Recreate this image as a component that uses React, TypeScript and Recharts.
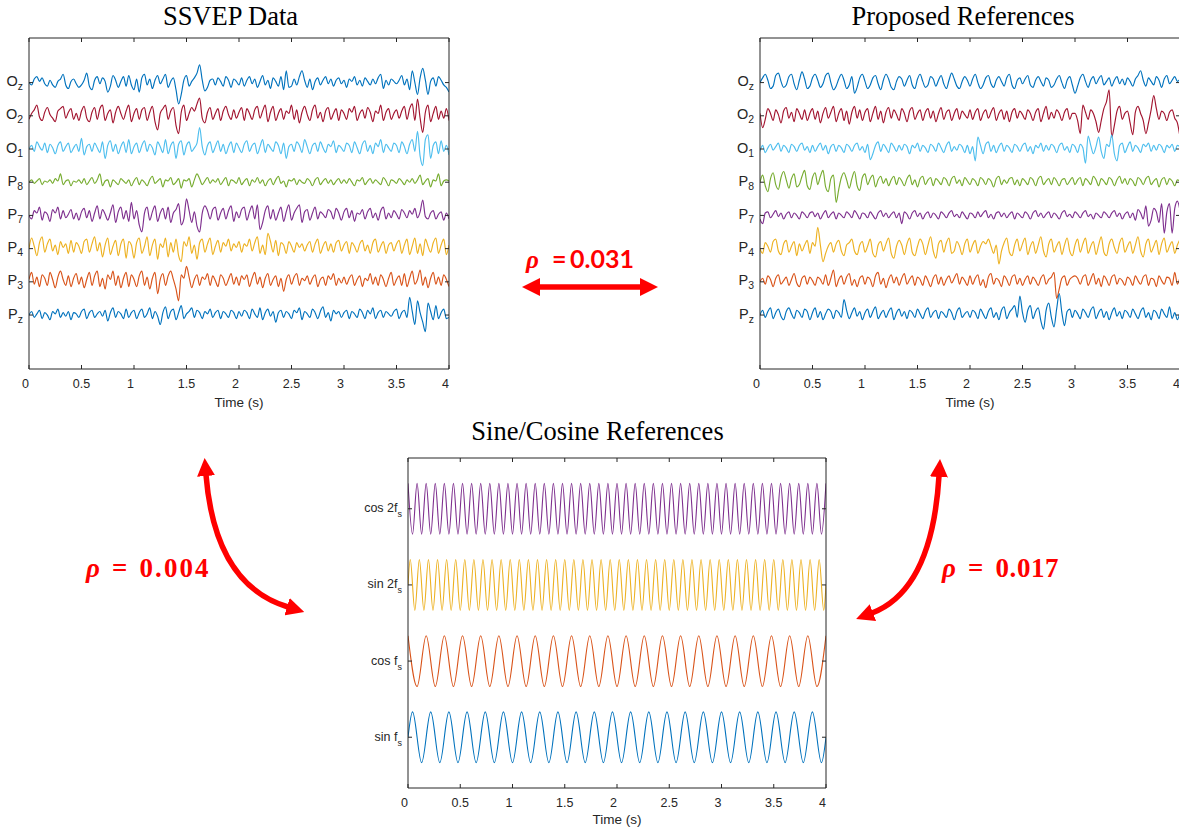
import React from 'react';
import { LineChart, Line, XAxis, YAxis } from 'recharts';

const AXIS = '#262626';
const SANS = '"Liberation Sans", Arial, Helvetica, sans-serif';
const SERIF = '"Liberation Serif", "Times New Roman", serif';
const RED = '#FF0000';

const TIME_TICKS = [0, 0.5, 1, 1.5, 2, 2.5, 3, 3.5, 4];
const SAMPLE_RATE = 40; // EEG samples per second

// EEG montage, top to bottom, stacked 28 µV apart
const CHANNELS = ['Oz', 'O2', 'O1', 'P8', 'P7', 'P4', 'P3', 'Pz'];
const CHANNEL_OFFSETS = [196, 168, 140, 112, 84, 56, 28, 0];
const CHANNEL_COLORS = ['#0072BD', '#A2142F', '#4DBEEE', '#77AC30', '#7E2F8E', '#EDB120', '#D95319', '#0072BD'];
const EEG_DOMAIN = [-45.5, 233.6];

// SSVEP recording (µV around each channel baseline), 0–4 s
const SSVEP_OZ = [
  0, -2, 3, 5, 1, 4, -1, -3, 2, -2, -4, 1, 3, 7, -2, -5, 1, 3, -1, -4,
  -2, 2, 8, -3, -6, 2, 5, -1, 4, 1, -8, -3, 6, 2, -4, 1, 5, -3, 6, -2,
  -6, 3, -8, 4, 7, -2, 3, -5, 2, 6, -1, 3, 7, -4, 1, 4, -6, -18, -10, 2,
  6, -3, 1, 4, 8, 15, 2, -7, -4, 2, 3, -2, 4, 1, -3, 5, 2, -4, 3, 1,
  -2, 4, -3, 2, 5, -1, 3, -4, 1, 6, -2, 2, -5, 4, 1, -3, 5, -6, 10, -4,
  -3, 3, -2, 5, 10, 2, -4, 3, -6, 1, 4, -2, 2, 5, -1, 3, -3, 2, 4, -1,
  2, -4, 3, 1, 5, -2, 2, -3, 4, 1, -2, 3, -1, 4, 7, -5, 2, -2, 3, 1,
  -1, 2, 6, -2, 3, -6, 10, 0, -10, 4, 12, 2, -10, 1, 4, -3, 5, 2, -2, -4,
  -8,
];
const SSVEP_O2 = [
  -3, 2, 5, 9, -1, -4, 3, 7, 1, -2, -5, 4, 6, 8, -2, 3, 6, -3, 2, -4,
  4, 8, -2, -5, 3, 7, -3, 6, 9, -4, 2, 5, -6, 3, 8, 2, -3, 4, 9, -5,
  2, 6, -3, 5, 7, -4, 3, 8, -5, -12, 2, 6, 9, -3, 4, 7, -8, -15, 3, 9,
  -4, 2, 7, 4, 10, 15, -2, -6, 3, 7, -3, 2, 6, -4, 4, 8, 1, -3, 5, -2,
  3, 7, -4, 6, 2, -3, 5, 8, -2, 4, 9, -5, 3, 8, -4, 2, 6, -3, 4, 2,
  9, -3, 5, -6, 3, 8, 1, -4, 5, 9, -2, 3, -5, 4, 7, -3, 2, 6, -4, 5,
  2, -3, 6, 3, 8, -4, 2, 5, -2, 7, 3, -5, 4, 2, 9, -4, 3, 6, -3, 2,
  5, -2, 4, 8, -3, 6, 10, -4, 14, -2, -14, 3, 9, -5, 2, 8, -3, 4, -2, 6,
  -4,
];
const SSVEP_O1 = [
  0, 3, -2, 6, 2, -1, 5, -3, 4, 1, -4, 3, 6, -2, 2, 5, -3, 1, 4, -2,
  9, -5, 2, 4, -2, 5, 1, -3, 6, -8, 3, 7, -2, 4, -4, 2, 6, -3, 8, -4,
  2, 5, -3, 3, 7, -2, 4, 1, -5, 6, 2, -3, 8, -4, 3, 6, -8, 4, 7, -5,
  3, 6, -2, 1, 5, 18, 2, -5, 3, 6, -3, 2, 7, -2, 4, -4, 2, 6, -3, 5,
  1, -3, 4, 7, -2, 3, 5, -4, 2, 8, -3, 4, 1, -2, 6, 3, -4, 5, -8, 2,
  4, -2, 6, 3, -3, 8, 2, -4, 3, 5, -2, 6, 1, -3, 4, 2, 7, -3, 3, 1,
  -2, 5, 3, -3, 6, 1, -4, 4, 7, -2, 3, -4, 5, 2, 8, -3, 4, 1, -2, 5,
  3, -3, 6, 2, -4, 4, 8, -2, 15, -6, -14, 8, 12, -8, 3, 6, -4, 7, -2, 3,
  -5,
];
const SSVEP_P8 = [
  0, 2, -1, 1, 3, -2, 1, 0, 2, -1, 3, 1, 7, -2, 1, 2, -3, 1, 0, 2,
  -1, 3, -2, 1, 4, -1, 2, 7, -3, 1, 2, -4, 2, 0, -2, 3, 1, -1, 2, -3,
  1, 4, -2, 2, 0, -3, 2, 5, -1, 1, 3, -4, 2, 1, 4, -2, 0, 3, -5, 2,
  1, 3, -4, 2, 7, 3, -2, 1, 4, -1, 2, 0, 3, -2, 1, 4, -3, 2, 1, -1,
  4, -2, 1, 3, -3, 2, 0, 4, -1, 2, -3, 1, 3, -2, 2, 5, -1, 1, -4, 2,
  1, 3, -2, 2, 0, -1, 3, 1, -3, 2, 4, -2, 1, 3, -1, 2, -2, 1, 3, -1,
  2, -1, 3, 0, -3, 2, 1, 4, -2, 1, 3, -1, 2, 0, -2, 4, 1, -3, 2, 1,
  -1, 3, 1, -2, 2, 0, 3, -1, 2, 6, -2, 1, 3, -4, 2, 1, 7, -3, 1, 2,
  1,
];
const SSVEP_P7 = [
  0, -3, 4, 2, 7, -4, 3, 1, -5, 5, 2, 7, -3, 4, -2, 1, 5, -3, 2, -4,
  3, 6, -2, 4, -5, 2, 8, -3, 5, 1, -4, 2, 9, -6, 3, 7, -3, 4, -5, 11,
  -3, 4, -8, -14, 2, 7, -4, 3, 8, -5, 2, 6, -3, 7, -6, 2, 5, 10, -8, -3,
  14, 4, -6, 3, -9, -14, 2, 8, 4, -3, 5, 7, -4, 2, 6, -3, 4, 8, -5, 3,
  -2, 5, 7, -4, 3, 8, -3, 9, -12, -6, 4, 8, -3, 5, -4, 2, 7, -5, 3, 9,
  -4, 2, 6, 9, -6, 3, 5, -4, 2, 7, -3, 3, 1, -2, 5, 3, -3, 6, 2, -4,
  3, 6, -2, 4, -5, 2, 1, 5, -3, 3, 6, -2, 2, -4, 4, 7, -3, 2, -2, 4,
  1, -3, 5, 2, -2, 4, 1, 6, -2, 3, 13, -1, -3, 2, 4, -3, 1, 3, -4, 2,
  -3,
];
const SSVEP_P4 = [
  0, 9, 2, -6, 5, 10, -3, 4, 8, -2, 3, -5, 6, 1, 4, -4, 7, -3, 5, 2,
  -4, 6, 8, -3, 4, 10, -2, 5, -7, 3, 9, -5, 2, 7, -6, 4, 8, -8, 6, 3,
  -8, 5, 9, -4, 2, 10, -6, 3, 8, -9, 4, 1, 9, -7, 5, -3, 8, -6, -11, 6,
  2, 10, -4, 3, -9, 5, 8, -3, 4, 9, -5, 2, 7, -3, 5, 2, 8, -2, 4, 1,
  6, -3, 4, 2, 8, -2, 5, 10, -4, 3, -5, 13, 6, -3, 7, -6, 5, 3, -4, 6,
  2, -3, 5, 1, 4, -2, 3, 6, -3, 4, 8, -4, 2, 6, -2, 4, -3, 5, 7, -2,
  3, 6, -4, 5, 2, -3, 4, 7, -2, 3, -4, 5, 8, -3, 2, 6, -4, 3, 5, -2,
  4, 7, -4, 3, 8, -5, 2, 9, -4, 4, -6, 8, 2, -3, 5, 9, -4, 3, 8, -5,
  3,
];
const SSVEP_P3 = [
  2, 8, -2, 4, -4, 6, 3, -3, 8, 2, -5, 4, 9, 2, -3, 5, -4, 3, 7, -2,
  4, -5, 2, 8, -3, 5, 9, -4, 3, -6, 6, 2, 9, -3, 5, -5, 3, 8, -4, 6,
  2, -4, 5, 9, -3, 4, -6, 3, 8, -10, 2, 7, -3, 5, 9, 2, -6, -16, 6, 3,
  13, 4, -5, 2, 6, -3, 4, 2, 7, -3, 5, 1, -4, 6, 3, -3, 2, 7, -2, 4,
  -3, 5, 2, 6, -4, 3, 8, -2, 4, -5, 3, 7, -3, 2, 5, -4, 3, -8, 2, 6,
  -2, 4, 7, -3, 3, 1, 5, -2, 3, 6, -4, 2, 4, -3, 5, 2, 7, -3, 3, -1,
  4, -2, 3, 6, -3, 2, 5, -4, 3, 1, 7, -2, 4, -3, 6, 2, -4, 3, 8, -3,
  2, 5, -3, 7, -4, 3, 9, -2, 2, 10, -3, 4, -5, 3, 8, -2, 4, -3, 6, 2,
  -4,
];
const SSVEP_PZ = [
  0, 3, -2, 1, 4, -3, 2, 0, -4, 3, 1, 5, -2, 2, -1, 3, -4, 2, 1, -2,
  3, 5, -3, 2, 4, -2, 1, 3, -1, 4, -5, 2, 6, -2, 3, 1, -3, 5, -2, 2,
  4, -3, 2, 5, -2, 1, 6, -3, 3, -1, -8, 2, 7, -3, 3, 5, -4, 2, 8, -3,
  1, 3, 6, -2, 4, 2, -3, 3, 1, 5, -2, 2, 4, -3, 3, 1, -2, 4, 2, -3,
  3, -1, 4, 2, -3, 5, 1, -2, 6, -4, 2, 5, -1, 3, -6, 2, 4, -2, 3, 1,
  -3, 4, 2, 6, -4, 3, 1, -2, 5, 2, -3, 3, 7, -2, 2, -5, 4, 1, 3, -2,
  2, 4, -3, 3, 1, -2, 5, 2, -3, 4, 1, 6, -3, 2, 4, -2, 3, 1, -1, 3,
  5, -3, 2, 4, -2, 15, 3, -8, 12, 2, -6, -14, 10, 3, -4, 8, -3, 2, 5, -3,
  -2,
];

// Proposed reference signals, same montage and scale
const PROP_OZ = [
  0, 4, 7, 2, -5, -3, 6, 8, 1, -4, -2, 5, 7, -1, -6, 2, 9, 3, -5, -3,
  4, 7, 2, -4, -1, 6, 8, 0, -6, -3, 3, 7, 2, -5, -2, 5, -9, -4, 4, 7,
  1, -5, -2, 4, 6, -1, -6, 2, 7, 3, -4, -6, 1, 5, 3, -3, 2, 6, -2, -5,
  3, 7, 1, -4, -2, 5, 3, -3, 2, 6, -1, -5, 2, 8, 3, -3, -5, 1, 5, 2,
  -3, 3, 7, 0, -5, -2, 4, 6, -1, -4, 2, 5, 1, -3, 4, 7, -2, -5, 2, 4,
  -1, 3, 6, -2, -4, 2, 5, 1, -3, 4, 2, -4, -2, 3, 6, 0, -5, 2, 5, -2,
  -9, -3, 4, 7, 1, -4, 2, 5, -1, 3, 6, -2, 1, 4, -3, 2, 5, -1, 3, -2,
  4, 1, -3, 3, 6, 10, 2, -3, 4, 1, -2, 5, 2, -4, 3, 6, -1, 2, 5, 1,
  3,
];
const PROP_O2 = [
  2, -10, -3, 6, 2, -4, 5, 1, -6, 4, 7, -2, 3, -5, 6, 2, -3, 5, -4, 2,
  6, -3, 4, -6, 2, 7, -2, 3, 8, -5, 2, 6, -4, 4, -7, 3, 8, -2, 5, -4,
  3, 6, -5, 2, 8, -3, 4, -6, 3, 7, -2, 5, 1, -4, 6, 2, -5, 4, 7, -3,
  2, 5, -4, 3, 6, -2, 4, -5, 2, 7, -3, 3, 5, -4, 2, 6, -3, 4, 1, -2,
  5, -3, 3, 6, -4, 2, 5, -2, 3, 7, -4, 2, 5, -3, 4, -5, 3, 6, -2, 4,
  1, -3, 5, 2, -4, 3, 6, -5, 2, 8, -3, 3, -2, 5, 2, -4, 3, 6, -3, 2,
  2, -4, -15, 9, 3, -3, 5, 2, -5, -14, -4, 6, 12, 22, -18, -8, 4, 8, -3, 2,
  4, -6, -16, 3, 8, 2, -4, -15, -6, 5, 17, 6, -3, 4, 2, -4, 3, 5, -2, -6,
  -18,
];
const PROP_O1 = [
  -2, 3, -3, 1, 4, -1, 2, 5, -2, 3, 1, -3, 4, 2, -2, 3, 5, -1, 2, -3,
  3, -2, 2, 5, -1, 3, -4, 2, 4, -2, 3, 1, -3, 4, 2, -2, 3, 5, -1, 2,
  -3, 4, -9, -4, 3, 6, -2, 4, 1, -3, 5, 2, -2, 3, -1, 4, 2, -4, 3, 1,
  5, -2, 3, 1, -3, 4, 2, -2, 5, 1, -3, 3, 6, -2, 2, -1, 4, 2, -3, 3,
  -4, 2, -10, 10, 3, -4, 4, 6, -2, 3, -3, 2, 5, -2, 3, 1, -3, 4, 2, -2,
  3, 5, -2, 2, -4, 3, 1, 5, -2, 3, -1, 4, 2, -3, 3, 5, -1, 2, -3, 4,
  2, -3, 4, 1, -12, 11, 3, -4, 2, 10, -2, -8, 4, 2, 12, -4, -10, 3, 5, -3,
  2, 6, -2, 3, 1, -3, 4, 2, 5, -2, 3, -1, 4, 2, -3, 3, 1, 4, -2, 3,
  2,
];
const PROP_P8 = [
  0, 6, -3, -8, 3, 8, -2, -6, 4, 9, 2, -5, 3, 7, -4, -2, 5, 10, -3, -6,
  4, 8, -2, 5, 10, -4, -8, 3, 6, -17, -6, 4, 8, 2, -5, 3, 9, -3, -7, 4,
  7, -2, 3, 6, -4, 2, 5, -1, 3, -3, 2, 5, -2, 4, 1, -3, 3, 6, -2, 2,
  -4, 3, 5, -2, 2, 4, -3, 3, 1, -2, 4, 2, -3, 3, 5, -1, 2, -3, 4, 1,
  -2, 3, 1, -3, 4, 2, -2, 3, 1, -4, 3, 5, -2, 2, -1, 3, 4, -2, 2, -3,
  3, 1, -2, 4, 2, -3, 3, 5, -2, 1, 3, -2, 4, 1, -3, 2, 3, -2, 1, 4,
  -2, 2, 4, -3, 3, 1, -2, 5, 2, -3, 3, 1, -2, 4, 2, -3, 2, 5, -1, 3,
  -2, 3, 1, -3, 4, 2, -2, 3, 5, -2, 1, 3, -4, 2, 4, -2, 3, 1, -3, 2,
  1,
];
const PROP_P7 = [
  -3, -7, 2, 3, -2, 1, 4, -1, 2, -3, 1, 3, -2, 2, 0, -3, 3, 1, -2, 2,
  3, -1, 2, -3, 1, 4, -2, 1, 3, -3, 2, 0, -2, 3, 1, -2, 4, 1, -3, 2,
  1, -2, 3, 0, -3, 2, 4, -1, 2, -2, 1, 3, -2, 2, -7, 3, 1, -3, 2, 4,
  -1, 2, -3, 1, 3, -2, 2, 0, -3, 3, 1, -2, 2, 4, -1, 1, -2, 3, 0, -3,
  2, 1, -2, 3, -1, 2, 4, -2, 1, -3, 2, 3, -1, 2, -2, 1, 3, -3, 2, 0,
  -2, 3, 1, -3, 2, 4, -1, 2, -2, 1, 3, -2, 2, 0, -3, 2, 4, -1, 1, -2,
  3, 1, -2, 2, 4, -1, 1, -3, 2, 0, -2, 3, 1, -2, 2, 4, -1, 2, -3, 1,
  3, -2, 2, -4, 5, 2, -3, 8, -9, -4, 6, 3, -6, 10, -15, 3, 10, -15, 6, 12,
  4,
];
const PROP_P4 = [
  0, -4, 5, 2, -3, 6, 8, -2, -5, 4, 7, -3, 2, 6, -6, 4, -2, 3, 7, -4,
  5, 2, 18, 3, -11, -4, 2, 5, -3, 4, 7, -2, -6, 3, 5, 8, -2, -5, 3, 6,
  -3, 2, 8, -4, -7, 3, 6, -2, 4, 9, -4, -8, 2, 7, 3, -5, 4, 9, -3, -6,
  2, 8, 4, -5, 3, 10, -2, -8, 4, 7, -3, 5, 9, -4, -2, 6, 2, -5, 4, 8,
  -3, 3, 7, -4, 2, 6, 4, 8, 2, -4, 3, -13, -2, 5, 9, -3, -6, 3, 8, -2,
  4, 9, -5, 2, 6, -4, 3, 10, -2, -7, 4, 8, -3, 2, 6, -5, 3, 9, -2, -6,
  3, 8, -3, 4, 9, -4, 2, 6, -5, 3, 10, -3, -6, 4, 8, 1, -4, 5, 9, -3,
  2, 6, -4, 3, 10, -2, -7, 4, 8, -3, 2, 7, -5, 4, 9, -3, 2, 6, -4, 3,
  8,
];
const PROP_P3 = [
  0, 3, -2, 5, 2, -4, 3, 6, -2, 1, 4, -3, 2, 7, -1, -4, 3, 5, -2, 4,
  1, -3, 4, 2, -2, 6, -3, 3, 10, -4, 2, 5, -2, 4, 7, -3, 2, -4, 3, 5,
  -2, 4, 2, -4, 5, 8, -2, 3, -5, 2, 6, -1, 4, -3, 3, 7, -2, 2, 5, -3,
  4, 2, -3, 5, 1, -4, 3, 6, -2, 4, -3, 2, 5, -1, 3, 7, -2, 4, 1, -3,
  5, -2, 3, 6, -3, 2, -5, 4, 7, -2, 3, 1, -4, 5, 2, -3, 4, 6, -2, 3,
  -3, 2, 5, -2, 4, 1, -3, 3, 6, -2, 2, 4, 8, -14, -6, 3, 5, -3, 2, 4,
  5, 3, -2, 4, 6, -3, 2, 7, -2, 3, -4, 5, 2, -3, 4, 6, -2, 3, 1, -3,
  4, 2, -3, 5, 1, -2, 4, 6, -3, 3, 2, -4, 5, 1, -2, 4, 3, -3, 8, -2,
  4,
];
const PROP_PZ = [
  0, 4, -2, 3, 6, -3, 2, 5, -1, -4, 3, 6, 1, -3, 4, 2, -2, 5, 3, -4,
  2, 6, -2, 3, -4, 1, 5, 3, -3, 4, 2, -2, 13, 4, -3, 2, 6, -1, 3, -4,
  2, 5, -2, 3, 7, -3, 1, 4, -2, 3, 6, -4, 2, 5, -1, 3, -3, 4, 2, -2,
  5, 1, -3, 3, 6, -2, 2, 4, -3, 3, 1, -2, 5, 2, -4, 3, 6, -2, 1, 3,
  -2, 4, 2, -3, 5, 1, -3, 3, 6, -2, 2, -4, 4, 7, -3, 2, 5, 8, -2, 16,
  2, -6, 4, 8, -3, 3, 6, -5, -12, 4, 10, -2, -10, 5, 18, 2, -9, 3, 5, -2,
  4, 1, -3, 5, 2, -2, 4, 7, -3, 2, 5, -2, 3, -4, 2, 6, -1, 3, -3, 4,
  2, -2, 5, 1, -3, 3, 6, -2, 2, -4, 4, 2, -3, 5, 1, -2, 7, -3, 2, -4,
  3,
];

const SSVEP_TRACES = [SSVEP_OZ, SSVEP_O2, SSVEP_O1, SSVEP_P8, SSVEP_P7, SSVEP_P4, SSVEP_P3, SSVEP_PZ];
const PROPOSED_TRACES = [PROP_OZ, PROP_O2, PROP_O1, PROP_P8, PROP_P7, PROP_P4, PROP_P3, PROP_PZ];

// Sine/cosine references: successive extrema (normalised amplitude)
const REF_FREQ = 5.75; // Hz
const REF_LABELS = ['sin f', 'cos f', 'sin 2f', 'cos 2f'];
const REF_HARMONIC = [1, 1, 2, 2];
const REF_IS_SINE = [true, false, true, false];
const REF_OFFSETS = [2, 5, 8, 11];
const REF_COLORS = ['#0072BD', '#D95319', '#EDB120', '#7E2F8E'];
const REF_DOMAIN = [0, 13];

const SIN_F_PEAKS = [
  1, -1, 1, -1, 1, -1, 1, -1, 1, -1, 1, -1, 1, -1, 1, -1, 1, -1, 1, -1,
  1, -1, 1, -1, 1, -1, 1, -1, 1, -1, 1, -1, 1, -1, 1, -1, 1, -1, 1, -1,
  1, -1, 1, -1, 1, -1,
];
const COS_F_PEAKS = [
  1, -1, 1, -1, 1, -1, 1, -1, 1, -1, 1, -1, 1, -1, 1, -1, 1, -1, 1, -1,
  1, -1, 1, -1, 1, -1, 1, -1, 1, -1, 1, -1, 1, -1, 1, -1, 1, -1, 1, -1,
  1, -1, 1, -1, 1, -1, 1,
];
const SIN_2F_PEAKS = [
  1, -1, 1, -1, 1, -1, 1, -1, 1, -1, 1, -1, 1, -1, 1, -1, 1, -1, 1, -1,
  1, -1, 1, -1, 1, -1, 1, -1, 1, -1, 1, -1, 1, -1, 1, -1, 1, -1, 1, -1,
  1, -1, 1, -1, 1, -1, 1, -1, 1, -1, 1, -1, 1, -1, 1, -1, 1, -1, 1, -1,
  1, -1, 1, -1, 1, -1, 1, -1, 1, -1, 1, -1, 1, -1, 1, -1, 1, -1, 1, -1,
  1, -1, 1, -1, 1, -1, 1, -1, 1, -1, 1, -1,
];
const COS_2F_PEAKS = [
  1, -1, 1, -1, 1, -1, 1, -1, 1, -1, 1, -1, 1, -1, 1, -1, 1, -1, 1, -1,
  1, -1, 1, -1, 1, -1, 1, -1, 1, -1, 1, -1, 1, -1, 1, -1, 1, -1, 1, -1,
  1, -1, 1, -1, 1, -1, 1, -1, 1, -1, 1, -1, 1, -1, 1, -1, 1, -1, 1, -1,
  1, -1, 1, -1, 1, -1, 1, -1, 1, -1, 1, -1, 1, -1, 1, -1, 1, -1, 1, -1,
  1, -1, 1, -1, 1, -1, 1, -1, 1, -1, 1, -1, 1,
];
const REF_PEAKS = [SIN_F_PEAKS, COS_F_PEAKS, SIN_2F_PEAKS, COS_2F_PEAKS];

function stackRows(traces: number[][]) {
  return traces[0].map((_, i) => {
    const row: Record<string, number> = { t: i / SAMPLE_RATE };
    CHANNELS.forEach((ch, c) => {
      row[ch] = traces[c][i] + CHANNEL_OFFSETS[c];
    });
    return row;
  });
}

// extrema are half a period apart; sines start a quarter period in and
// get their zero crossings at both ends
function refRows(r: number) {
  const half = 1 / (2 * REF_FREQ * REF_HARMONIC[r]);
  const start = REF_IS_SINE[r] ? half / 2 : 0;
  const off = REF_OFFSETS[r];
  const rows = REF_PEAKS[r].map((p, k) => ({ t: Math.round((start + k * half) * 1e6) / 1e6, v: p + off }));
  return REF_IS_SINE[r] ? [{ t: 0, v: off }, ...rows, { t: 4, v: off }] : rows;
}

const NoTick = () => <g />;

function TimeTick(props: any) {
  const { x, y, payload } = props;
  const s = String(payload.value);
  const dx = s.includes('.') ? 0 : -3.5;
  return (
    <text x={x + dx} y={y} dy="0.71em" textAnchor="middle" fontSize={12.5} fill={AXIS} fontFamily={SANS}>
      {s}
    </text>
  );
}

function StackTick(props: any) {
  const { x, y, payload, values, names, subs, size, subDy } = props;
  const idx = values.indexOf(payload.value);
  if (idx < 0) return <g />;
  return (
    <text x={x} y={y + 3.5} textAnchor="end" fontSize={size} fill={AXIS} fontFamily={SANS}>
      {names[idx]}
      <tspan dy={subDy} fontSize={size * 0.72}>
        {subs[idx]}
      </tspan>
    </text>
  );
}

const CH_MAIN = CHANNELS.map((c) => c[0]);
const CH_SUB = CHANNELS.map((c) => c.slice(1));

// bottom/left axes carry the labels, top/right only close the box with inward ticks
function boxAxes(yDomain: number[], yTicks: number[], yWidth: number, yTick: React.ReactElement, labelOffset: number) {
  return [
    <XAxis
      key="xb"
      xAxisId="b"
      dataKey="t"
      type="number"
      domain={[0, 4]}
      ticks={TIME_TICKS}
      allowDataOverflow
      height={40}
      stroke={AXIS}
      tickSize={-4}
      tickMargin={14}
      tick={<TimeTick />}
      label={{ value: 'Time (s)', position: 'insideBottom', offset: labelOffset, fill: AXIS, fontSize: 13.5 }}
    />,
    <XAxis
      key="xt"
      xAxisId="top"
      orientation="top"
      dataKey="t"
      type="number"
      domain={[0, 4]}
      ticks={TIME_TICKS}
      allowDataOverflow
      height={1}
      stroke={AXIS}
      tickSize={-4}
      tick={<NoTick />}
    />,
    <YAxis
      key="yl"
      yAxisId="l"
      type="number"
      domain={yDomain}
      ticks={yTicks}
      allowDataOverflow
      width={yWidth}
      stroke={AXIS}
      tickSize={-4}
      tickMargin={10}
      tick={yTick}
    />,
    <YAxis
      key="yr"
      yAxisId="r"
      orientation="right"
      type="number"
      domain={yDomain}
      ticks={yTicks}
      allowDataOverflow
      width={1}
      stroke={AXIS}
      tickSize={-4}
      tick={<NoTick />}
    />,
  ];
}

function EegPanel({ left, traces }: { left: number; traces: number[][] }) {
  const rows = stackRows(traces);
  return (
    <div style={{ position: 'absolute', left, top: 0, fontFamily: SANS }}>
      <LineChart width={460} height={420} data={rows} margin={{ top: 37, right: 10, bottom: 11, left: 0 }}>
        {boxAxes(
          EEG_DOMAIN,
          CHANNEL_OFFSETS,
          29,
          <StackTick values={CHANNEL_OFFSETS} names={CH_MAIN} subs={CH_SUB} size={14.5} subDy={4} />,
          2.5,
        )}
        {CHANNELS.map((ch, c) => (
          <Line
            key={ch}
            xAxisId={c === 0 ? 'top' : 'b'}
            yAxisId={c === 0 ? 'r' : 'l'}
            dataKey={ch}
            type="monotoneX"
            stroke={CHANNEL_COLORS[c]}
            strokeWidth={1.15}
            dot={false}
            isAnimationActive={false}
          />
        ))}
      </LineChart>
    </div>
  );
}

function RefPanel() {
  return (
    <div style={{ position: 'absolute', left: 340, top: 420, fontFamily: SANS }}>
      <LineChart width={497} height={411} margin={{ top: 37, right: 10, bottom: 3, left: 0 }}>
        {boxAxes(
          REF_DOMAIN,
          REF_OFFSETS,
          68,
          <StackTick values={REF_OFFSETS} names={REF_LABELS} subs={['s', 's', 's', 's']} size={12.5} subDy={5} />,
          4,
        )}
        {REF_LABELS.map((name, r) => (
          <Line
            key={name}
            xAxisId={r === 0 ? 'top' : 'b'}
            yAxisId={r === 0 ? 'r' : 'l'}
            data={refRows(r)}
            dataKey="v"
            type="monotoneX"
            stroke={REF_COLORS[r]}
            strokeWidth={1.1}
            dot={false}
            isAnimationActive={false}
          />
        ))}
      </LineChart>
    </div>
  );
}

function Annotations() {
  return (
    <svg width={1179} height={831} style={{ position: 'absolute', left: 0, top: 0, pointerEvents: 'none' }}>
      <defs>
        <marker
          id="head"
          viewBox="0 0 18 18"
          refX={1}
          refY={9}
          markerWidth={18}
          markerHeight={18}
          markerUnits="userSpaceOnUse"
          orient="auto-start-reverse"
        >
          <path d="M0,0 L18,9 L0,18 Z" fill={RED} />
        </marker>
      </defs>

      <g fontFamily={SERIF} fontSize={26.5} fill="#000" textAnchor="middle">
        <text x={230.5} y={25}>SSVEP Data</text>
        <text x={963} y={25}>Proposed References</text>
        <text x={597.5} y={439.5}>Sine/Cosine References</text>
      </g>

      <path d="M539,287 L641,287" stroke={RED} strokeWidth={5.5} fill="none" markerStart="url(#head)" markerEnd="url(#head)" />
      <path d="M206,475 Q215,585 288,607" stroke={RED} strokeWidth={5.5} fill="none" markerStart="url(#head)" markerEnd="url(#head)" />
      <path d="M939,476 Q932,590 872,613" stroke={RED} strokeWidth={5.5} fill="none" markerStart="url(#head)" markerEnd="url(#head)" />

      <g fill={RED} fontWeight={700}>
        <text y={268} fontSize={25}>
          <tspan x={526} fontFamily={SERIF} fontStyle="italic">ρ</tspan>
          <tspan x={552} fontFamily="Lato, sans-serif">=</tspan>
          <tspan x={570} fontFamily="Lato, sans-serif">0.031</tspan>
        </text>
        <g fontFamily={SERIF} fontSize={27}>
          <text y={576.5}>
            <tspan x={86} fontStyle="italic">ρ</tspan>
            <tspan x={112}>=</tspan>
          </text>
          <text x={139.5} y={576.5} textLength={69} lengthAdjust="spacing">0.004</text>
          <text y={576.5}>
            <tspan x={942} fontStyle="italic">ρ</tspan>
            <tspan x={968}>=</tspan>
          </text>
          <text x={995.5} y={576.5} textLength={63} lengthAdjust="spacing">0.017</text>
        </g>
      </g>
    </svg>
  );
}

export default function App() {
  return (
    <div style={{ position: 'absolute', left: 0, top: 0, width: 1179, height: 831, overflow: 'hidden', background: '#fff' }}>
      <EegPanel left={0} traces={SSVEP_TRACES} />
      <EegPanel left={731} traces={PROPOSED_TRACES} />
      <RefPanel />
      <Annotations />
    </div>
  );
}
